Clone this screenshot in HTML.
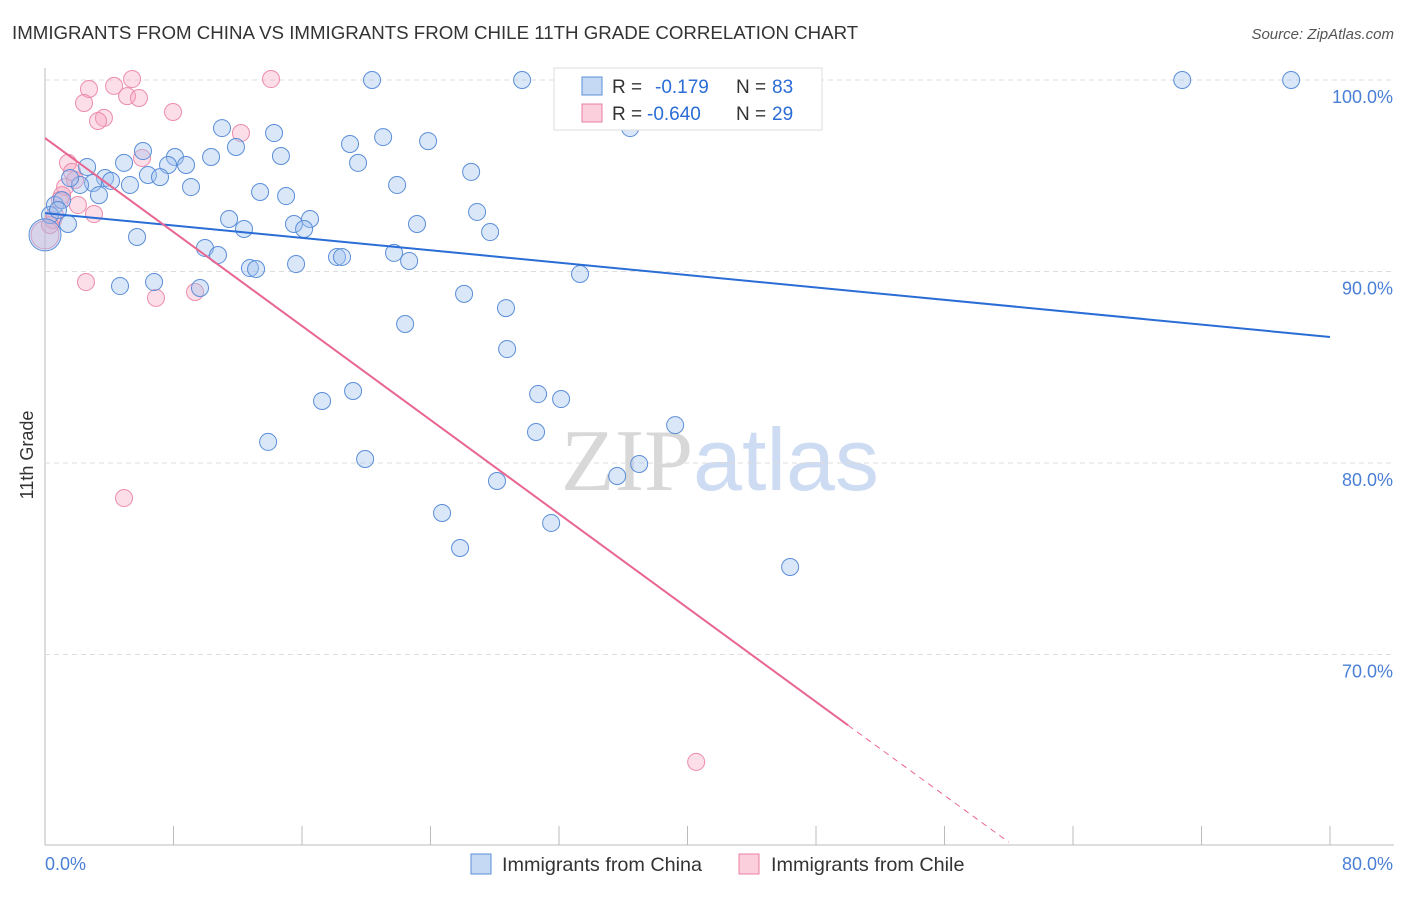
<!DOCTYPE html>
<html><head><meta charset="utf-8"><style>
body{margin:0;background:#fff;font-family:"Liberation Sans",sans-serif;}
svg text{font-family:"Liberation Sans",sans-serif;}
</style></head><body>
<svg id="chart" width="1406" height="892" xmlns="http://www.w3.org/2000/svg">
<text x="12" y="39" font-size="18.7" fill="#333">IMMIGRANTS FROM CHINA VS IMMIGRANTS FROM CHILE 11TH GRADE CORRELATION CHART</text>
<text x="1394" y="39" font-size="15" fill="#555" text-anchor="end" font-style="italic">Source: ZipAtlas.com</text>
<text x="720" y="490" font-size="88" text-anchor="middle"><tspan fill="#d8d8d8" font-family="Liberation Serif">ZIP</tspan><tspan fill="#cddcf2">atlas</tspan></text>
<text transform="translate(33,455) rotate(-90)" font-size="18" fill="#333" text-anchor="middle">11th Grade</text>
<g id="grid"></g><g id="marks"></g><g id="lines"></g>
<g>
<rect x="554" y="68" width="268" height="62" fill="#fff" stroke="#ddd"/>
<rect x="582" y="77" width="20" height="18" fill="#c5d9f5" stroke="#5b8ed8"/>
<text x="612" y="93" font-size="19" fill="#333">R =</text>
<text x="655" y="93" font-size="19" fill="#2a6dd6">-0.179</text>
<text x="736" y="93" font-size="19" fill="#333">N =</text>
<text x="772" y="93" font-size="19" fill="#2a6dd6">83</text>
<rect x="582" y="104" width="20" height="18" fill="#fbcfdc" stroke="#e87fa0"/>
<text x="612" y="120" font-size="19" fill="#333">R =</text>
<text x="647" y="120" font-size="19" fill="#2a6dd6">-0.640</text>
<text x="736" y="120" font-size="19" fill="#333">N =</text>
<text x="772" y="120" font-size="19" fill="#2a6dd6">29</text>
</g>
<g>
<rect x="471" y="854" width="20" height="20" fill="#c5d9f5" stroke="#5b8ed8"/>
<text x="502" y="871" font-size="19.8" fill="#333">Immigrants from China</text>
<rect x="739" y="854" width="20" height="20" fill="#fbcfdc" stroke="#e87fa0"/>
<text x="771" y="871" font-size="19.8" fill="#333">Immigrants from Chile</text>
</g>
</svg>
<script>
const yTicks=[100,90,80,70];
const xTicks=[0,8,16,24,32,40,48,56,64,72,80];
const chinaX=[20.36,29.70,32.94,70.80,77.58,40.78,36.43,11.02,14.26,21.05,18.99,23.85,11.89,6.10,14.69,10.34,8.09,8.78,7.66,4.92,2.62,19.49,26.53,6.41,7.16,3.74,4.11,2.99,5.29,9.09,21.92,13.39,15.01,3.36,0.62,1.06,26.90,11.46,16.50,15.50,23.16,1.43,12.39,16.13,27.71,5.73,9.96,10.77,18.18,18.49,21.73,22.67,12.76,13.14,15.63,33.31,4.67,6.79,9.65,26.09,28.70,22.42,28.77,19.18,17.25,30.70,32.13,13.89,30.57,39.23,19.93,36.99,35.62,28.14,24.72,31.51,25.84,46.39,0.31,0,0.81,2.18,1.56];
const chinaY=[100,100,100,100,100,100,97.49,97.49,97.23,97.02,96.66,96.81,96.50,96.29,96.03,95.98,95.98,95.56,95.56,95.67,95.46,95.67,95.20,95.04,94.93,94.88,94.73,94.62,94.52,94.41,94.52,94.15,93.94,93.99,93.47,93.73,93.11,92.74,92.74,92.48,92.48,92.48,92.22,92.22,92.06,91.80,91.23,90.86,90.76,90.76,90.97,90.55,90.18,90.13,90.39,89.87,89.24,89.45,89.14,88.83,88.09,87.26,85.95,83.76,83.24,83.60,83.34,81.10,81.62,81.98,80.21,79.95,79.32,79.06,77.39,76.87,75.56,74.57,92.95,91.91,93.21,94.52,94.88];
const chileX=[5.42,14.07,4.30,2.74,5.11,5.85,2.43,7.97,3.67,3.30,12.20,6.04,1.43,1.68,1.25,1.06,2.05,3.05,0.62,0.50,0,2.55,6.91,9.34,4.92,40.54,1.87,0.93,0.31];
const chileY=[100.05,100.05,99.69,99.53,99.16,99.06,98.80,98.33,98.02,97.86,97.23,95.93,95.67,95.20,94.41,93.99,93.47,93.00,92.95,92.69,91.91,89.45,88.62,88.93,78.17,64.39,94.78,93.73,92.43];
const chinaTrend=[93.05,86.58];
const chileTrend=[96.97,66.3,60.2];
const chileTrendX=[0,50,60];
const xs=v=>45+v*16.0625, ys=v=>80+(100-v)*19.15;
const NS='http://www.w3.org/2000/svg';
function mk(t,a,p){const e=document.createElementNS(NS,t);for(const k in a)e.setAttribute(k,a[k]);p.appendChild(e);return e;}
const grid=document.getElementById('grid'),marks=document.getElementById('marks'),lines=document.getElementById('lines');
const ax=mk('line',{x1:45,y1:68,x2:45,y2:845,stroke:'#bbb'},grid);


const bx=mk('line',{x1:45,y1:845,x2:1394,y2:845,stroke:'#bbb'},grid);


yTicks.forEach(t=>{const y=ys(t);
const g=mk('line',{x1:45,y1:y,x2:1394,y2:y,stroke:'#ddd','stroke-dasharray':'5,4'},grid);


const l=mk('text',{x:1393,y:y+23,'font-size':18,fill:'#4a7fd6','text-anchor':'end'},grid);l.textContent=t.toFixed(1)+'%';

});
xTicks.forEach(t=>{const x=xs(t);
const m=mk('line',{x1:x,y1:826,x2:x,y2:845,stroke:'#bbb'},grid);

});
const x0=mk('text',{x:45,y:870,'font-size':18,fill:'#4a7fd6'},grid);x0.textContent='0.0%';


const x1=mk('text',{x:1393,y:870,'font-size':18,fill:'#4a7fd6','text-anchor':'end'},grid);x1.textContent='80.0%';


chileX.forEach((v,i)=>{const c=mk('circle',{cx:xs(v),cy:ys(chileY[i]),r:(v===0?14:8.5),fill:'rgba(246,160,188,0.35)',stroke:'#ec8cab','stroke-width':1},marks);

});
chinaX.forEach((v,i)=>{const c=mk('circle',{cx:xs(v),cy:ys(chinaY[i]),r:(v===0?16:8.5),fill:'rgba(160,195,240,0.4)',stroke:'#5b8ed8','stroke-width':1},marks);

});
const bl=mk('line',{x1:xs(0),y1:ys(chinaTrend[0]),x2:xs(80),y2:ys(chinaTrend[1]),stroke:'#2a6dd6','stroke-width':2},lines);


const pl=mk('line',{x1:xs(chileTrendX[0]),y1:ys(chileTrend[0]),x2:xs(chileTrendX[1]),y2:ys(chileTrend[1]),stroke:'#e8668f','stroke-width':2},lines);


const pd=mk('line',{x1:xs(chileTrendX[1]),y1:ys(chileTrend[1]),x2:xs(chileTrendX[2]),y2:ys(chileTrend[2]),stroke:'#e8668f','stroke-width':1,'stroke-dasharray':'6,5'},lines);


</script>
</body></html>
